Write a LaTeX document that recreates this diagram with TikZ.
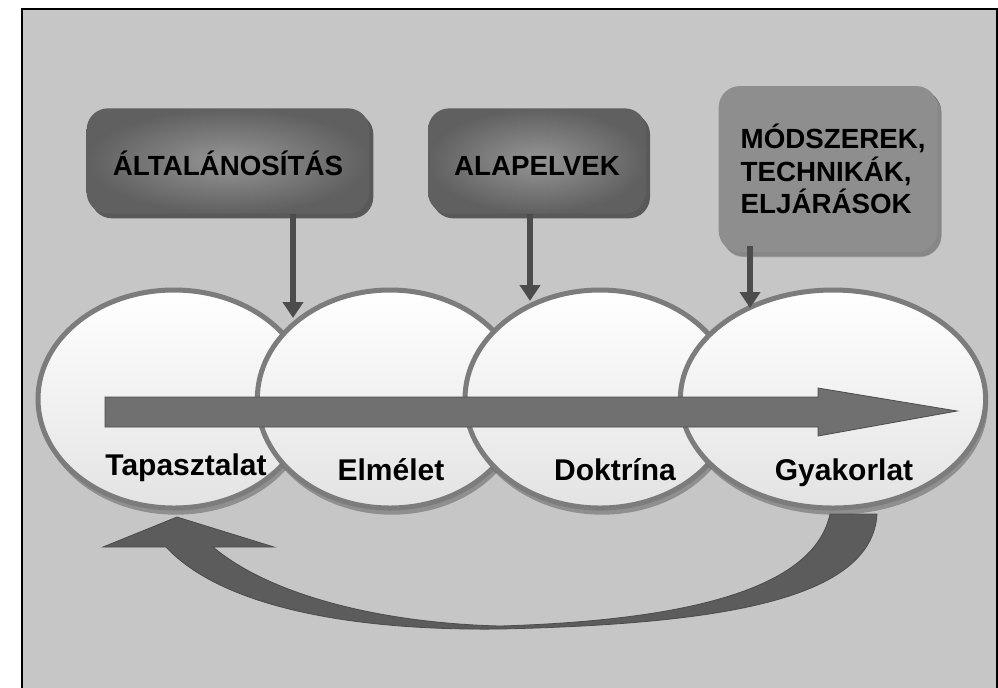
\documentclass[tikz,border=0pt]{standalone}
\usepackage{fontspec}
\setmainfont{Liberation Sans}
\usetikzlibrary{shapes.geometric,shadows,arrows.meta}

\definecolor{bgGray}{HTML}{C6C6C6}
\definecolor{boxDark}{HTML}{606060}
\definecolor{boxLight}{HTML}{959595}
\definecolor{boxPale}{HTML}{8E8E8E}
\definecolor{rimGray}{HTML}{7C7C7C}
\definecolor{arrowGray}{HTML}{707070}
\definecolor{loopGray}{HTML}{5C5C5C}
\definecolor{lineDark}{HTML}{4C4C4C}

\tikzset{
  stage/.style={ellipse, draw=rimGray, line width=3.75pt, top color=white, bottom color=gray!22,
    minimum height=163.5pt, inner sep=0pt,
    drop shadow={shadow xshift=1.5pt, shadow yshift=-5pt, fill=black!65, opacity=.5}},
  concept/.style={rounded corners=16pt, inner color=boxLight, outer color=boxDark,
    minimum height=79pt, text height=21pt, text depth=0pt,
    font=\fontsize{20.8}{24.5}\selectfont\bfseries,
    drop shadow={shadow xshift=3pt, shadow yshift=-3.5pt, fill=black!72, opacity=.85}},
  feed/.style={draw=lineDark, line width=4.5pt, -{Triangle[width=15pt,length=12pt]}},
  lbl/.style={font=\fontsize{22.5}{27}\selectfont\bfseries, anchor=base}
}

\begin{document}
\begin{tikzpicture}[x=0.75pt, y=-0.75pt]
  \useasboundingbox (0,0) rectangle (998,687);
  \draw[black, line width=1.2pt, fill=bgGray] (22,9) rectangle (997,700);

  % boxes
  \node[concept, minimum width=212pt] (alt) at (228,161) {ÁLTALÁNOSÍTÁS};
  \node[concept, minimum width=163.5pt] (alap) at (537,161) {ALAPELVEK};
  \node[concept, inner color=boxPale, outer color=boxPale, minimum width=164pt, minimum height=124.5pt,
    text height=, text depth=, inner xsep=16.5pt, text width=131pt, align=left,
    drop shadow={shadow xshift=3pt, shadow yshift=-4pt, fill=black!35, opacity=.6}] (mod) at (828,169)
    {MÓDSZEREK,\\TECHNIKÁK,\\ELJÁRÁSOK};

  % stages
  \node[stage, minimum width=204pt] (tap) at (174,399) {};
  \node[stage, minimum width=199pt] (elm) at (390,399) {};
  \node[stage, minimum width=202.5pt] (dok) at (600,399) {};
  \node[stage, minimum width=229pt] (gyak) at (833,399) {};

  % return loop
  \fill[loopGray, draw=lineDark, line width=.6pt] (877,514) .. controls (872,600) and (720,624) .. (500,629)
    .. controls (330,631) and (215,600) .. (166,547) -- (103,547) -- (177,517) -- (274,547) -- (213,547)
    .. controls (270,595) and (380,623) .. (500,626) .. controls (700,620) and (815,585) .. (830,514) -- cycle;

  % feeds from the boxes
  \coordinate (tip1) at (293,318);
  \coordinate (tip2) at (530,301);
  \coordinate (tip3) at (750,308);
  \draw[feed] (alt.south -| tip1) -- (tip1);
  \draw[feed] (alap.south -| tip2) -- (tip2);
  \draw[feed] (750,246) -- (tip3);

  % main arrow
  \fill[arrowGray, draw=lineDark, line width=.6pt] (105,397) -- (818,397) -- (818,388) -- (957,411)
    -- (818,436) -- (818,427) -- (105,427) -- cycle;

  \node[lbl] (lTap) at (186,475) {Tapasztalat};
  \node[lbl] (lElm) at (391,480) {Elmélet};
  \node[lbl] (lDok) at (615,480) {Doktrína};
  \node[lbl] (lGyak) at (844,480) {Gyakorlat};
\end{tikzpicture}
\end{document}
